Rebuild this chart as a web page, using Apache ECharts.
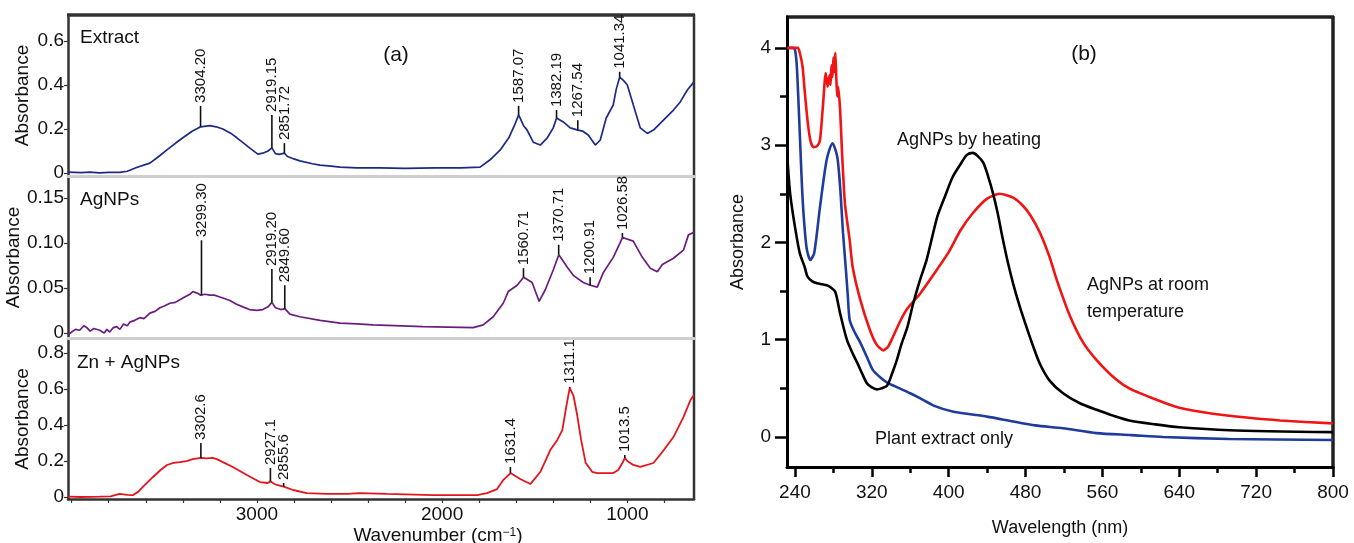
<!DOCTYPE html>
<html>
<head>
<meta charset="utf-8">
<script src="https://cdn.jsdelivr.net/npm/echarts@6/dist/echarts.min.js"></script>
<style>
html, body { margin: 0; padding: 0; background: #fff; }
#chart { width: 1354px; height: 543px; }
</style>
</head>
<body>
<div id="chart"></div>
<script>
var FONT = '"Liberation Sans", Arial, Helvetica, sans-serif';

// ---- (a) FTIR spectra: [wavenumber, absorbance] ----
var extractSpectrum = [
  [4020,0.004],[3950,0.002],[3900,0.004],[3850,0.001],[3800,0.003],[3740,0.003],[3700,0.008],
  [3650,0.025],[3578,0.045],[3530,0.075],[3486,0.105],[3440,0.135],[3400,0.16],[3350,0.19],
  [3304,0.21],[3254,0.215],[3220,0.21],[3184,0.2],[3140,0.18],[3108,0.16],[3070,0.135],
  [3038,0.113],[2995,0.086],[2968,0.09],[2940,0.1],[2919,0.114],[2900,0.088],[2880,0.085],
  [2851,0.09],[2835,0.075],[2800,0.064],[2768,0.055],[2700,0.042],[2660,0.036],[2600,0.031],
  [2551,0.027],[2459,0.023],[2335,0.023],[2200,0.021],[2038,0.023],[1900,0.023],[1795,0.027],
  [1741,0.06],[1686,0.105],[1640,0.16],[1610,0.215],[1587,0.264],[1560,0.215],[1541,0.195],
  [1508,0.14],[1470,0.127],[1432,0.16],[1400,0.205],[1382,0.25],[1346,0.232],[1308,0.205],
  [1267,0.195],[1240,0.19],[1211,0.173],[1173,0.127],[1146,0.15],[1114,0.25],[1076,0.31],
  [1060,0.38],[1041,0.436],[1020,0.42],[1000,0.4],[968,0.31],[930,0.205],[892,0.18],
  [859,0.195],[805,0.24],[751,0.286],[714,0.323],[676,0.377],[640,0.414]
];
var agnpSpectrum = [
  [4020,-0.002],[4000,0.001],[3980,0.004],[3957,0.003],[3935,0.008],[3919,0.006],[3900,0.002],
  [3880,0.005],[3849,0.003],[3825,0.0],[3810,0.004],[3795,0.001],[3775,0.006],[3757,0.007],
  [3740,0.004],[3720,0.01],[3700,0.008],[3686,0.012],[3660,0.014],[3632,0.017],[3610,0.016],
  [3578,0.022],[3550,0.024],[3524,0.028],[3500,0.03],[3470,0.033],[3440,0.034],[3416,0.037],
  [3390,0.04],[3362,0.043],[3346,0.046],[3320,0.044],[3303,0.042],[3280,0.043],[3254,0.042],
  [3230,0.042],[3200,0.04],[3146,0.036],[3110,0.032],[3076,0.029],[3040,0.026],[3000,0.025],
  [2968,0.026],[2940,0.029],[2919,0.034],[2900,0.028],[2870,0.026],[2849,0.027],[2822,0.021],
  [2768,0.018],[2659,0.014],[2551,0.011],[2459,0.01],[2373,0.009],[2103,0.007],[1832,0.006],
  [1778,0.009],[1724,0.018],[1670,0.033],[1643,0.046],[1595,0.053],[1560,0.062],[1514,0.056],
  [1476,0.035],[1443,0.048],[1400,0.07],[1370,0.087],[1324,0.073],[1292,0.064],[1238,0.056],
  [1200,0.053],[1162,0.051],[1130,0.067],[1076,0.084],[1026,0.106],[968,0.102],[919,0.084],
  [876,0.072],[838,0.068],[811,0.076],[751,0.083],[697,0.092],[670,0.109],[640,0.112]
];
var znSpectrum = [
  [4020,0.002],[3950,0.0],[3849,0.002],[3790,0.004],[3741,0.017],[3700,0.012],[3670,0.01],
  [3640,0.03],[3616,0.056],[3562,0.11],[3520,0.15],[3486,0.178],[3450,0.19],[3416,0.194],
  [3380,0.2],[3346,0.21],[3302,0.217],[3270,0.215],[3238,0.217],[3210,0.208],[3184,0.194],
  [3130,0.167],[3054,0.122],[2984,0.083],[2941,0.078],[2927,0.087],[2910,0.075],[2892,0.067],
  [2855,0.058],[2849,0.056],[2805,0.039],[2730,0.022],[2622,0.017],[2514,0.017],[2443,0.022],
  [2300,0.017],[2049,0.011],[1811,0.011],[1757,0.022],[1703,0.044],[1670,0.094],[1631,0.133],
  [1578,0.1],[1524,0.072],[1470,0.139],[1416,0.261],[1378,0.317],[1351,0.372],[1330,0.5],
  [1311,0.606],[1290,0.56],[1270,0.45],[1250,0.32],[1225,0.19],[1190,0.14],[1162,0.133],
  [1076,0.133],[1049,0.15],[1027,0.189],[1013,0.217],[1000,0.2],[968,0.178],[930,0.167],
  [859,0.189],[811,0.25],[751,0.333],[697,0.444],[659,0.539],[640,0.567]
];

// peak markers: [wavenumber, curve value, line top]
var extractPeaks = [[3304.2,0.21,0.305],[2919.15,0.114,0.264],[2851.72,0.09,0.136],[1587.07,0.264,0.305],
  [1382.19,0.25,0.286],[1267.54,0.195,0.24],[1041.34,0.436,0.46]];
var extractPeakLabels = ['3304.20','2919.15','2851.72','1587.07','1382.19','1267.54','1041.34'];
var agnpPeaks = [[3299.3,0.042,0.103],[2919.2,0.034,0.071],[2849.6,0.027,0.053],[1560.71,0.062,0.072],
  [1370.71,0.087,0.098],[1200.91,0.053,0.062],[1026.58,0.106,0.111]];
var agnpPeakLabels = ['3299.30','2919.20','2849.60','1560.71','1370.71','1200.91','1026.58'];
var znPeaks = [[3302.6,0.217,0.3],[2927.1,0.087,0.161],[2855.6,0.058,0.078],[1631.4,0.133,0.167],
  [1311.1,0.606,0.612],[1013.5,0.217,0.233]];
var znPeakLabels = ['3302.6','2927.1','2855.6','1631.4','1311.1','1013.5'];

var wnTicks = [800,1000,1200,1400,1600,1800,2000,2200,2400,2600,2800,3000,3200,3400,3600,3800,4000];
var wnLabels = [1000,2000,3000];
var extractYTicks = [0,0.2,0.4,0.6];
var agnpYTicks = [0,0.05,0.1,0.15];
var znYTicks = [0,0.2,0.4,0.6,0.8];

// ---- (b) UV-vis: [wavelength nm, absorbance] ----
var roomTemp = [
  [232,4.0],[236,4.0],[243,4.0],[245,3.95],[248,3.8],[250,3.57],[253,3.26],[256,3.05],[259,2.98],
  [263,2.99],[266,3.05],[269,3.39],[272,3.74],[274,3.6],[276,3.72],[277,3.62],[278,3.82],[279,3.7],
  [280,3.9],[281,3.75],[282,3.95],[283,3.7],[284,3.5],[285,3.6],[287,3.36],[289,2.92],[292,2.4],
  [297,2.02],[300,1.75],[308,1.41],[318,1.1],[325,0.95],[332,0.89],[337,0.93],[342,1.03],
  [350,1.2],[357,1.32],[370,1.47],[385,1.68],[400,1.9],[412,2.12],[425,2.3],[440,2.45],[453,2.5],
  [467,2.46],[477,2.38],[485,2.28],[495,2.1],[505,1.85],[513,1.6],[526,1.25],[540,0.97],
  [554,0.79],[571,0.62],[588,0.5],[617,0.38],[640,0.3],[675,0.24],[710,0.2],[745,0.17],[800,0.14]
];
var byHeating = [
  [232,2.88],[235,2.5],[240,2.16],[245,1.89],[250,1.75],[253,1.65],[258,1.6],[263,1.58],[268,1.57],
  [273,1.56],[277,1.54],[282,1.49],[287,1.27],[294,1.0],[300,0.86],[305,0.76],[310,0.65],[315,0.55],
  [320,0.51],[325,0.49],[330,0.5],[336,0.53],[341,0.65],[346,0.79],[351,0.96],[357,1.13],[363,1.37],
  [370,1.61],[377,1.82],[388,2.26],[396,2.47],[404,2.67],[412,2.8],[419,2.9],[425,2.92],[430,2.89],
  [436,2.82],[441,2.68],[446,2.51],[451,2.3],[456,2.05],[461,1.82],[467,1.58],[474,1.34],[481,1.13],
  [488,0.93],[495,0.75],[505,0.58],[519,0.45],[536,0.35],[554,0.28],[571,0.22],[588,0.17],[615,0.13],
  [640,0.1],[692,0.07],[800,0.05]
];
var plantOnly = [
  [232,4.0],[238,4.0],[240,3.98],[242,3.8],[245,3.12],[248,2.44],[252,1.95],[256,1.82],[260,1.89],
  [266,2.36],[273,2.85],[279,3.02],[284,2.88],[287,2.57],[290,2.1],[293,1.72],[295,1.45],[297,1.2],
  [302,1.08],[308,0.97],[315,0.82],[321,0.69],[328,0.62],[336,0.56],[349,0.5],[360,0.45],[370,0.4],
  [385,0.32],[405,0.26],[440,0.21],[467,0.16],[490,0.12],[519,0.09],[554,0.04],[590,0.02],[623,0.0],
  [692,-0.02],[800,-0.03]
];
var nmTicks = [240,320,400,480,560,640,720,800];
var nmMinorTicks = [280,360,440,520,600,680,760];
var absTicks = [0,1,2,3,4];
var absMinorTicks = [0.5,1.5,2.5,3.5];

var chart = echarts.init(document.getElementById('chart'));

function ftirX(i, last) {
  return {
    type: 'value', gridIndex: i, min: 640, max: 4020, inverse: true, position: 'bottom',
    axisLine: { onZero: false, lineStyle: { color: last ? '#333' : '#cfcfcf', width: last ? 2.5 : 3 } },
    axisTick: { show: last, customValues: wnTicks, length: 4, lineStyle: { color: '#333', width: 1.2 } },
    axisLabel: { show: last, customValues: wnLabels, margin: 6, fontSize: 19, color: '#111', fontFamily: FONT,
                 formatter: function (v) { return String(v); } },
    splitLine: { show: false }
  };
}
function ftirY(i, min, max, ticks, dec) {
  return {
    type: 'value', gridIndex: i, min: min, max: max,
    name: 'Absorbance', nameLocation: 'middle', nameGap: 36,
    nameTextStyle: { fontSize: 19, color: '#111', fontFamily: FONT },
    axisLine: { onZero: false, lineStyle: { color: '#333', width: 2.5 } },
    axisTick: { customValues: ticks, length: 4, lineStyle: { color: '#333', width: 1.2 } },
    axisLabel: {
      customValues: ticks, margin: 4, fontSize: 19, color: '#111', fontFamily: FONT,
      formatter: function (v) { return v === 0 ? '0' : v.toFixed(dec); }
    },
    splitLine: { show: false }
  };
}
function peakSeries(peaks, labels, idx) {
  return {
    type: 'custom', xAxisIndex: idx, yAxisIndex: idx, clip: false, silent: true, z: 5,
    data: peaks,
    renderItem: function (params, api) {
      var base = api.coord([api.value(0), api.value(1)]);
      var top = api.coord([api.value(0), api.value(2)]);
      return {
        type: 'group',
        children: [
          { type: 'line', shape: { x1: base[0], y1: base[1], x2: top[0], y2: top[1] },
            style: { stroke: '#111', lineWidth: 1.6 } },
          { type: 'text', x: top[0], y: top[1] - 3, rotation: Math.PI / 2,
            style: { text: labels[params.dataIndex], fontSize: 15, fontFamily: FONT, fill: '#111',
                     align: 'left', verticalAlign: 'middle' } }
        ]
      };
    }
  };
}
function spec(data, color, idx, width, smooth) {
  return { type: 'line', data: data, xAxisIndex: idx, yAxisIndex: idx, showSymbol: false,
           smooth: smooth || false, lineStyle: { color: color, width: width }, silent: true };
}
function txt(x, y, text, size, align) {
  return { type: 'text', x: x, y: y, silent: true,
           style: { text: text, fontSize: size, fontFamily: FONT, fill: '#111',
                    align: align || 'left', verticalAlign: 'middle' } };
}

var option = {
  animation: false,
  backgroundColor: '#fff',
  grid: [
    { left: 68, width: 626, top: 15, height: 161 },
    { left: 68, width: 626, top: 177, height: 161 },
    { left: 68, width: 626, top: 339, height: 160 },
    { left: 787, width: 546, top: 17, height: 450 }
  ],
  xAxis: [
    ftirX(0, false), ftirX(1, false), ftirX(2, true),
    {
      type: 'value', gridIndex: 3, min: 231.7, max: 800, position: 'bottom',
      name: 'Wavelength (nm)', nameLocation: 'middle', nameGap: 52,
      nameTextStyle: { fontSize: 18, color: '#111', fontFamily: FONT },
      axisLine: { onZero: false, lineStyle: { color: '#000', width: 3 } },
      axisTick: { customValues: nmTicks, length: 10, lineStyle: { color: '#000', width: 2.5 } },
      axisLabel: { customValues: nmTicks, margin: 16, fontSize: 19, color: '#111', fontFamily: FONT },
      splitLine: { show: false }
    },
    {
      type: 'value', gridIndex: 3, min: 231.7, max: 800, position: 'bottom',
      axisLine: { show: false, onZero: false },
      axisTick: { customValues: nmMinorTicks, length: 6, lineStyle: { color: '#000', width: 2.5 } },
      axisLabel: { show: false }, splitLine: { show: false }
    }
  ],
  yAxis: [
    ftirY(0, -0.0136, 0.718, extractYTicks, 1),
    ftirY(1, -0.0056, 0.1733, agnpYTicks, 2),
    ftirY(2, -0.011, 0.878, znYTicks, 1),
    {
      type: 'value', gridIndex: 3, min: -0.308, max: 4.317,
      name: 'Absorbance', nameLocation: 'middle', nameGap: 40,
      nameTextStyle: { fontSize: 18, color: '#111', fontFamily: FONT },
      axisLine: { onZero: false, lineStyle: { color: '#000', width: 3 } },
      axisTick: { customValues: absTicks, length: 12, lineStyle: { color: '#000', width: 2.5 } },
      axisLabel: { customValues: absTicks, margin: 16, fontSize: 19, color: '#111', fontFamily: FONT },
      splitLine: { show: false }
    },
    {
      type: 'value', gridIndex: 3, min: -0.308, max: 4.317, position: 'left',
      axisLine: { show: false, onZero: false },
      axisTick: { customValues: absMinorTicks, length: 7, lineStyle: { color: '#000', width: 2.5 } },
      axisLabel: { show: false }, splitLine: { show: false }
    }
  ],
  series: [
    spec(extractSpectrum, '#1c2a84', 0, 1.7),
    spec(agnpSpectrum, '#6b1d7e', 1, 1.7),
    spec(znSpectrum, '#e3151c', 2, 1.8),
    peakSeries(extractPeaks, extractPeakLabels, 0),
    peakSeries(agnpPeaks, agnpPeakLabels, 1),
    peakSeries(znPeaks, znPeakLabels, 2),
    spec(plantOnly, '#1f3c9c', 3, 2.6, 0.25),
    spec(roomTemp, '#f01414', 3, 2.6, 0.2),
    spec(byHeating, '#000000', 3, 2.6, 0.25)
  ],
  graphic: [
    { type: 'line', silent: true, shape: { x1: 67, y1: 15, x2: 695, y2: 15 }, style: { stroke: '#333', lineWidth: 3.5 } },
    { type: 'line', silent: true, shape: { x1: 694, y1: 14, x2: 694, y2: 500 }, style: { stroke: '#333', lineWidth: 2.5 } },
    { type: 'line', silent: true, shape: { x1: 786, y1: 17, x2: 1334, y2: 17 }, style: { stroke: '#222', lineWidth: 3.5 } },
    { type: 'line', silent: true, shape: { x1: 1333, y1: 16, x2: 1333, y2: 468 }, style: { stroke: '#222', lineWidth: 3.5 } },
    txt(80, 38, 'Extract', 19),
    txt(396, 55, '(a)', 21, 'center'),
    txt(80, 200, 'AgNPs', 19),
    txt(77, 363, 'Zn + AgNPs', 19),
    {
      type: 'text', x: 438, y: 536, silent: true,
      style: { text: 'Wavenumber (cm{s|\u22121})', fontSize: 19, fontFamily: FONT, fill: '#111',
               align: 'center', verticalAlign: 'middle',
               rich: { s: { fontSize: 12, fontFamily: FONT, fill: '#111', verticalAlign: 'top' } } }
    },
    txt(1084, 54, '(b)', 21, 'center'),
    txt(897, 140, 'AgNPs by heating', 18),
    txt(1087, 285, 'AgNPs at room', 18),
    txt(1087, 312, 'temperature', 18),
    txt(875, 439, 'Plant extract only', 18)
  ]
};
chart.setOption(option);
</script>
</body>
</html>
